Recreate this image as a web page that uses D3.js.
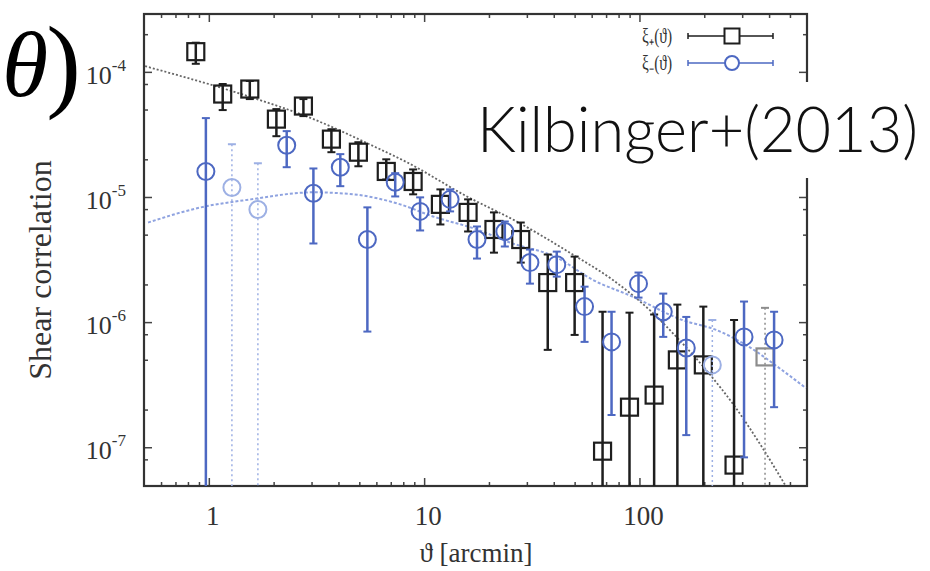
<!DOCTYPE html>
<html><head><meta charset="utf-8">
<script src="https://cdn.jsdelivr.net/npm/d3@7"></script>
<style>body{margin:0;background:#fff}svg{display:block}</style>
</head><body><svg id="c" width="930" height="571"></svg>
<script>
// ---- data ----
const thetaPlus = [0.87,1.16,1.55,2.06,2.75,3.71,4.95,6.67,8.89,11.9,16.0,21.1,28.1,37.5,50.0,67.4,89.9,117,150,198,275,383];
const xiPlus    = [1.45e-4,6.65e-5,7.29e-5,4.19e-5,5.33e-5,2.90e-5,2.28e-5,1.60e-5,1.33e-5,8.73e-6,7.53e-6,5.50e-6,4.57e-6,2.07e-6,2.07e-6,9.3e-8,2.09e-7,2.61e-7,4.99e-7,4.55e-7,7.2e-8,5.27e-7];
const xiPlusLo  = [1.16e-4,4.95e-5,6.06e-5,3.06e-5,4.43e-5,2.28e-5,1.76e-5,1.38e-5,1.05e-5,6.03e-6,5.30e-6,3.59e-6,2.99e-6,6.0e-7,7.9e-7,null,null,null,null,null,null,null];
const xiPlusHi  = [1.71e-4,8.0e-5,8.45e-5,5.04e-5,6.06e-5,3.48e-5,2.74e-5,2.00e-5,1.66e-5,1.15e-5,9.57e-6,7.53e-6,6.25e-6,3.47e-6,3.34e-6,1.21e-6,1.19e-6,1.15e-6,1.38e-6,1.33e-6,1.04e-6,1.30e-6];
const xiPlusNeg = [0,0,0,0,0,0,0,0,0,0,0,0,0,0,0,0,0,0,0,0,0,1];

const thetaMinus = [0.969,1.28,1.69,2.30,3.06,4.08,5.45,7.34,9.58,13.2,17.6,23.7,31.0,41.3,55.6,74.2,99,129,165,218,306,422];
const xiMinus    = [1.60e-5,1.19e-5,7.95e-6,2.59e-5,1.07e-5,1.73e-5,4.57e-6,1.31e-5,7.67e-6,9.57e-6,4.57e-6,5.30e-6,2.99e-6,2.88e-6,1.33e-6,6.95e-7,2.03e-6,1.21e-6,6.22e-7,4.55e-7,7.62e-7,7.21e-7];
const xiMinusLo  = [null,null,null,1.73e-5,4.25e-6,1.22e-5,8.4e-7,1.01e-5,5.40e-6,7.67e-6,3.22e-6,4.02e-6,2.03e-6,2.31e-6,6.95e-7,1.81e-7,1.57e-6,7.62e-7,1.25e-7,null,8.3e-8,2.09e-7];
const xiMinusHi  = [4.27e-5,2.64e-5,1.86e-5,3.36e-5,1.69e-5,2.20e-5,8.26e-6,1.55e-5,9.93e-6,1.15e-5,5.81e-6,6.37e-6,3.80e-6,3.66e-6,1.92e-6,1.21e-6,2.49e-6,1.69e-6,1.10e-6,1.04e-6,1.46e-6,1.21e-6];
const xiMinusNeg = [0,1,1,0,0,0,0,0,0,0,0,0,0,0,0,0,0,0,0,1,0,0];

const modelPlusTheta = [0.506,0.995,1.565,3.06,5.81,8.34,15.8,26.9,49.0,75.0,114.9,148.4,204,281,371,479];
const modelPlusXi    = [1.11e-4,8.0e-5,6.29e-5,4.19e-5,2.55e-5,1.89e-5,1.01e-5,6.37e-6,3.47e-6,2.18e-6,1.19e-6,7.62e-7,4.14e-7,2.05e-7,1.0e-7,4.87e-8];
const modelMinusTheta = [0.522,0.918,1.565,3.06,4.69,7.74,11.0,17.6,25.0,41.3,60.6,92.8,158,227,323,459,593];
const modelMinusXi    = [6.25e-6,8.26e-6,9.57e-6,1.09e-5,1.05e-5,8.73e-6,6.99e-6,5.50e-6,4.33e-6,3.28e-6,2.18e-6,1.60e-6,1.04e-6,8.67e-7,6.34e-7,4.14e-7,2.97e-7];

const xMajor = [1,10,100];
const xMajorLabels = ["1","10","100"];
const xMinor = [0.6,0.7,0.8,0.9,2,3,4,5,6,7,8,9,20,30,40,50,60,70,80,90,200,300,400,500];
const yMajor = [1e-7,1e-6,1e-5,1e-4];
const yMajorExp = ["-7","-6","-5","-4"];
const yMinor = [8e-8,2e-7,5e-7,8e-7,2e-6,5e-6,8e-6,2e-5,5e-5,8e-5,2e-4];

const legendLabels = ["ξ₊(ϑ)","ξ₋(ϑ)"];
const xTitle = "ϑ [arcmin]";
const yTitle = "Shear correlation";
const credit = "Kilbinger+(2013)";

// ---- drawing ----
const svg = d3.select("#c");
const L=144,R=807,T=14,B=486;
const x = d3.scaleLog().domain([0.5,600]).range([L,R]);
const y = d3.scaleLog().domain([4.9e-8,2.9e-4]).range([B,T]);
const black="#1e1e1e", blue="#4d68c2", lightBlue="#9db0e4", gray="#8c8c8c";
const serif="'Times New Roman','Liberation Serif',serif";

svg.append("defs").append("clipPath").attr("id","clip")
  .append("rect").attr("x",L).attr("y",T).attr("width",R-L).attr("height",B-T);

function ticks(axisFn, scale, vals, size, tx, ty){
  const g = svg.append("g").attr("transform",`translate(${tx},${ty})`)
    .call(axisFn(scale).tickValues(vals).tickSizeInner(-size).tickSizeOuter(0).tickFormat(""));
  g.select(".domain").remove();
  g.selectAll("line").attr("stroke","#444").attr("stroke-width",1.5);
}
ticks(d3.axisBottom,x,xMajor,8,0,B); ticks(d3.axisBottom,x,xMinor,4,0,B);
ticks(d3.axisTop,x,xMajor,8,0,T);    ticks(d3.axisTop,x,xMinor,4,0,T);
ticks(d3.axisLeft,y,yMajor,8,L,0);   ticks(d3.axisLeft,y,yMinor,4,L,0);
ticks(d3.axisRight,y,yMajor,8,R,0);  ticks(d3.axisRight,y,yMinor,4,R,0);

svg.append("rect").attr("x",L).attr("y",T).attr("width",R-L).attr("height",B-T)
  .attr("fill","none").attr("stroke","#333").attr("stroke-width",2.2);

// tick labels
svg.append("g").selectAll("text").data(xMajor).join("text")
  .attr("x",d=>x(d)+4).attr("y",B+39).attr("text-anchor","middle")
  .attr("font-family",serif).attr("font-size",27).attr("fill","#333")
  .text((d,i)=>xMajorLabels[i]);
const yl = svg.append("g").selectAll("text").data(yMajor).join("text")
  .attr("x",126).attr("y",d=>y(d)+12).attr("text-anchor","end")
  .attr("font-family",serif).attr("font-size",26).attr("fill","#333");
yl.append("tspan").text("10");
yl.append("tspan").attr("dy",-13).attr("font-size",17).text((d,i)=>yMajorExp[i]);

// titles
svg.append("text").attr("x",476).attr("y",562).attr("text-anchor","middle")
  .attr("font-family",serif).attr("font-size",27).attr("fill","#333").text(xTitle);
svg.append("text").attr("transform","translate(51,270) rotate(-90)").attr("text-anchor","middle")
  .attr("font-family",serif).attr("font-size",32).attr("fill","#333").text(yTitle);

// model curves
const plot = svg.append("g").attr("clip-path","url(#clip)");
const line = d3.line().x(d=>x(d[0])).y(d=>y(d[1])).curve(d3.curveMonotoneX);
plot.append("path").attr("d",line(modelPlusTheta.map((t,i)=>[t,modelPlusXi[i]])))
  .attr("fill","none").attr("stroke","#666").attr("stroke-width",1.8).attr("stroke-dasharray","2,2");
plot.append("path").attr("d",line(modelMinusTheta.map((t,i)=>[t,modelMinusXi[i]])))
  .attr("fill","none").attr("stroke","#8fa3e0").attr("stroke-width",2).attr("stroke-dasharray","3,2");

function errorbars(th, v, lo, hi, neg, colMain, colNeg, shape){
  const d = th.map((t,i)=>({t,v:v[i],lo:lo[i],hi:hi[i],neg:neg[i]}));
  const g = plot.append("g");
  const gy = p=>p.lo===null? y.range()[0]+10 : y(p.lo);
  g.selectAll("line.v").data(d).join("line")
    .attr("x1",p=>x(p.t)).attr("x2",p=>x(p.t)).attr("y1",p=>y(p.hi)).attr("y2",gy)
    .attr("stroke",p=>p.neg?colNeg:colMain).attr("stroke-width",p=>p.neg?1.5:2.5)
    .attr("stroke-dasharray",p=>p.neg?"2,3":null);
  g.selectAll("line.ct").data(d).join("line")
    .attr("x1",p=>x(p.t)-4).attr("x2",p=>x(p.t)+4).attr("y1",p=>y(p.hi)).attr("y2",p=>y(p.hi))
    .attr("stroke",p=>p.neg?colNeg:colMain).attr("stroke-width",2);
  g.selectAll("line.cb").data(d.filter(p=>p.lo!==null)).join("line")
    .attr("x1",p=>x(p.t)-4).attr("x2",p=>x(p.t)+4).attr("y1",p=>y(p.lo)).attr("y2",p=>y(p.lo))
    .attr("stroke",p=>p.neg?colNeg:colMain).attr("stroke-width",2);
  if(shape==="square"){
    g.selectAll("rect").data(d).join("rect")
      .attr("x",p=>x(p.t)-8.5).attr("y",p=>y(p.v)-8.5).attr("width",17).attr("height",17)
      .attr("fill","none").attr("stroke",p=>p.neg?colNeg:colMain).attr("stroke-width",2.2);
  } else {
    g.selectAll("circle").data(d).join("circle")
      .attr("cx",p=>x(p.t)).attr("cy",p=>y(p.v)).attr("r",8.5)
      .attr("fill","none").attr("stroke",p=>p.neg?colNeg:colMain).attr("stroke-width",2);
  }
}
errorbars(thetaPlus,xiPlus,xiPlusLo,xiPlusHi,xiPlusNeg,black,gray,"square");
errorbars(thetaMinus,xiMinus,xiMinusLo,xiMinusHi,xiMinusNeg,blue,lightBlue,"circle");

// legend
const lg = svg.append("g");
[0,1].forEach(i=>{
  const yy = 36 + i*27, col = i===0?black:blue;
  lg.append("text").attr("x",672).attr("y",yy+7).attr("text-anchor","end")
    .attr("font-family",serif).attr("font-size",20).attr("fill","#333")
    .attr("textLength",30).attr("lengthAdjust","spacingAndGlyphs").text(legendLabels[i]);
  lg.append("line").attr("x1",688).attr("x2",773).attr("y1",yy).attr("y2",yy).attr("stroke",col).attr("stroke-width",1.5);
  [688,773].forEach(xx=>lg.append("line").attr("x1",xx).attr("x2",xx).attr("y1",yy-3).attr("y2",yy+3).attr("stroke",col).attr("stroke-width",1.5));
  if(i===0) lg.append("rect").attr("x",724.5).attr("y",yy-7.5).attr("width",15).attr("height",15).attr("fill","#fff").attr("stroke",col).attr("stroke-width",2);
  else lg.append("circle").attr("cx",732).attr("cy",yy).attr("r",7).attr("fill","#fff").attr("stroke",col).attr("stroke-width",2);
});

// overlay: credit box and big theta
svg.append("rect").attr("x",468).attr("y",82).attr("width",462).attr("height",96).attr("fill","#fff");
svg.append("text").attr("x",477).attr("y",152).attr("font-family","Lato,'Open Sans',sans-serif")
  .attr("font-weight",300).attr("font-size",64).attr("fill","#111")
  .attr("textLength",441).attr("lengthAdjust","spacingAndGlyphs").text(credit);
const th = svg.append("text").attr("x",2).attr("y",96).attr("font-family",serif)
  .attr("font-size",94).attr("fill","#000");
th.append("tspan").attr("font-style","italic").text("θ");
th.append("tspan").attr("dx",-2).attr("dy",2).attr("font-size",104).text(")");
</script></body></html>
